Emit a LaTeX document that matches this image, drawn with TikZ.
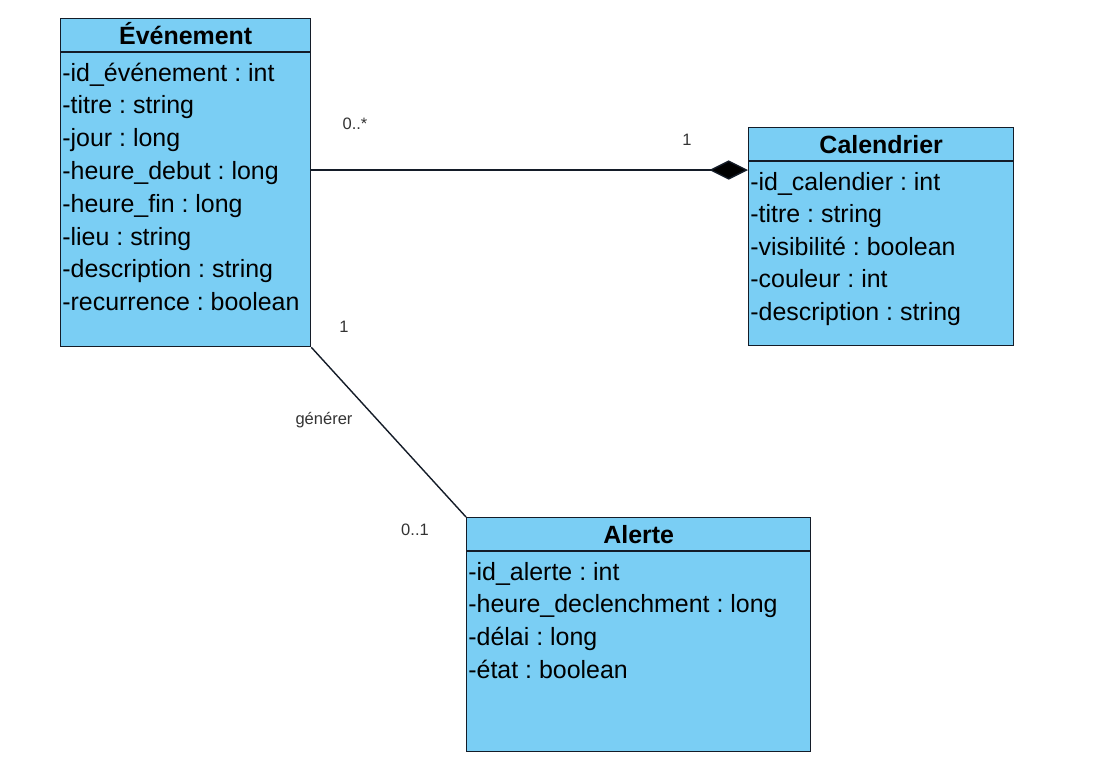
\documentclass[tikz,border=0pt]{standalone}
\usepackage{fontspec}
\setmainfont{Liberation Sans}
\usepackage{tikz}
\usetikzlibrary{positioning}
\usetikzlibrary{calc}
\usetikzlibrary{arrows.meta}

\definecolor{classfill}{RGB}{122,206,244}
\definecolor{classline}{RGB}{20,28,40}
\frenchspacing

\begin{document}
\begin{tikzpicture} [
    x=0.02cm, y=-0.02cm,            % one unit = one pixel of the sketch
    ]
% -------------------------------------------------
\tikzset{
  classbox/.style={draw=classline, fill=classfill, line width=0.8pt, rectangle, anchor=north west, inner sep=0pt},
  classname/.style={anchor=base, inner sep=0pt, font=\fontsize{14.2}{17}\selectfont\bfseries},
  attr/.style={anchor=base west, inner sep=0pt, font=\fontsize{14.2}{17}\selectfont},
  mult/.style={inner sep=0pt, font=\fontsize{9.4}{11}\selectfont, text=black!80},
  line/.style={draw=classline, line width=0.8pt},
  sep/.style={draw=classline, line width=0.8pt}
}

    \useasboundingbox (0,0) rectangle (1097,762);

    % class boxes
    \node [classbox, minimum width=5cm, minimum height=6.56cm] (evt) at (60,18) {};
    \node [classbox, minimum width=5.3cm, minimum height=4.36cm] (cal) at (748,127) {};
    \node [classbox, minimum width=6.88cm, minimum height=4.68cm] (alr) at (466,517) {};

    % headers
    \path [sep] ($(evt.north west)+(0,34)$) -- ($(evt.north east)+(0,34)$);
    \path [sep] ($(cal.north west)+(0,34)$) -- ($(cal.north east)+(0,34)$);
    \path [sep] ($(alr.north west)+(0,34)$) -- ($(alr.north east)+(0,34)$);

    \node [classname] (evtname) at ($(evt.north)+(0,26)$) {Événement};
    \node [classname] (calname) at ($(cal.north)+(0,26)$) {Calendrier};
    \node [classname] (alrname) at ($(alr.north)+(0,26)$) {Alerte};

    % attributes
    \foreach \t [count=\i] in {-id\_événement : int, -titre : string, -jour : long,
        -heure\_debut : long, -heure\_fin : long, -lieu : string,
        -description : string, -recurrence : boolean}
      \node [attr] (evta\i) at ($(evt.north west)+(2,63+32.8*\i-32.8)$) {\t};

    \foreach \t [count=\i] in {-id\_calendier : int, -titre : string,
        -visibilité : boolean, -couleur : int, -description : string}
      \node [attr] (cala\i) at ($(cal.north west)+(2,63+32.6*\i-32.6)$) {\t};

    \foreach \t [count=\i] in {-id\_alerte : int, -heure\_declenchment : long,
        -délai : long, -état : boolean}
      \node [attr] (alra\i) at ($(alr.north west)+(2,63+32.8*\i-32.8)$) {\t};

    % associations
    \coordinate (agg) at ($(cal.north west)+(0,43)$);
    \path [line, -{Diamond[length=22pt, width=11pt, fill=black]}] (evt.east |- agg) -- (agg);
    \path [line] (evt.south east) -- (alr.north west);

    \node [mult] (m1) at (355,124) {0..*};
    \node [mult] (m2) at (687,140) {1};
    \node [mult] (m3) at (344,327) {1};
    \node [mult] (gen) at (324,420) {générer};
    \node [mult] (m4) at (415,530) {0..1};

\end{tikzpicture}
\end{document}
